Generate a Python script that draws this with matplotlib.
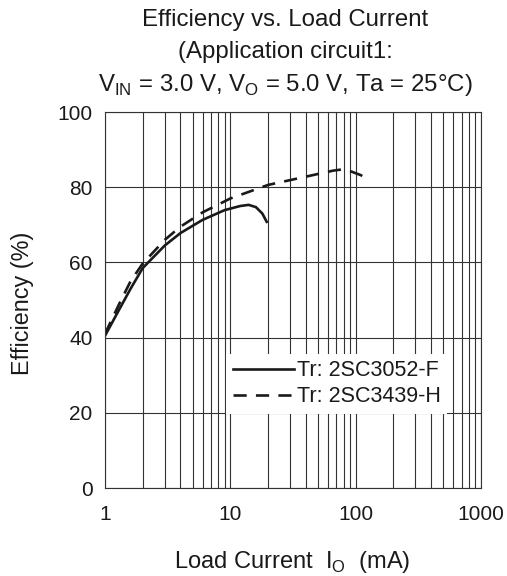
import matplotlib
matplotlib.use("Agg")
import matplotlib.pyplot as plt
import numpy as np

plt.rcParams['font.family'] = ['Liberation Sans', 'DejaVu Sans']

# Data
i_3052 = [1.0, 1.3, 1.6, 2.0, 3.0, 4.0, 6.0, 9.0, 12.0, 14.0, 16.0, 18.0, 19.5]
eff_3052 = [40.5, 47.5, 53.0, 58.5, 64.5, 67.8, 71.3, 73.9, 75.0, 75.3, 74.7, 73.0, 70.8]

i_3439 = [1.0, 1.3, 1.6, 2.0, 3.0, 4.0, 6.0, 10.0, 20.0, 40.0, 66.0, 77.0, 90.0, 110.0, 130.0]
eff_3439 = [41.0, 49.0, 55.0, 59.7, 66.0, 69.5, 73.3, 77.0, 80.6, 82.8, 84.4, 84.7, 84.3, 83.2, 81.7]

x_ticks = [1, 10, 100, 1000]
x_ticklabels = ["1", "10", "100", "1000"]
y_ticks = [0, 20, 40, 60, 80, 100]

fig = plt.figure(figsize=(5.07, 5.76), dpi=100)
ax = fig.add_axes([105/507, 1-488/576, (481-105)/507, (488-112)/576])

ax.plot(i_3052, eff_3052, color='#1a1a1a', lw=1.9, label='Tr: 2SC3052-F')
ax.plot(i_3439, eff_3439, color='#1a1a1a', lw=1.9, ls=(0, (5, 3.5)), label='Tr: 2SC3439-H')

ax.set_xscale('log')
ax.set_xlim(1, 1000)
ax.set_ylim(0, 100)
ax.set_xticks(x_ticks)
ax.set_xticklabels(x_ticklabels)
ax.set_yticks(y_ticks)
ax.xaxis.set_minor_locator(matplotlib.ticker.LogLocator(base=10, subs=np.arange(2, 10)))
ax.xaxis.set_minor_formatter(matplotlib.ticker.NullFormatter())
ax.grid(True, which='both', axis='x', color='#333333', lw=0.8)
ax.grid(True, which='major', axis='y', color='#333333', lw=0.8)
ax.tick_params(which='both', length=0, labelsize=15, colors='#1a1a1a')
ax.tick_params(axis='y', pad=9)
ax.tick_params(axis='x', pad=12)
for s in ax.spines.values():
    s.set_color('#333333')
    s.set_linewidth(0.8)

leg = ax.legend(loc='lower right', bbox_to_anchor=(0.91, 0.197), frameon=True, fancybox=False,
                edgecolor='none', facecolor='white', framealpha=1, fontsize=15.5,
                handlelength=2.85, handletextpad=0.12, borderpad=0.3, labelspacing=0.25,
                borderaxespad=0)
for t in leg.get_texts():
    t.set_color('#1a1a1a')

title_fs = 17.3
fig.text(0.563, 1-20/576, 'Efficiency vs. Load Current', ha='center', va='center', fontsize=title_fs, color='#1a1a1a')
fig.text(0.563, 1-52/576, '(Application circuit1:', ha='center', va='center', fontsize=title_fs, color='#1a1a1a')
fig.text(0.563, 1-91/576, r'V$_{\mathregular{IN}}$ = 3.0 V, V$_{\mathregular{O}}$ = 5.0 V, Ta = 25°C)', ha='center', va='baseline', fontsize=title_fs, color='#1a1a1a')

fig.text(22/507, 1-303/576, 'Efficiency (%)', rotation=90, ha='center', va='center', fontsize=16.8, color='#1a1a1a')
fig.text(292/507, 1-562/576, r'Load Current  I$_{\mathregular{O}}$  (mA)', ha='center', va='center', fontsize=17, color='#1a1a1a')

fig.savefig('out.png', dpi=100, facecolor='white')
